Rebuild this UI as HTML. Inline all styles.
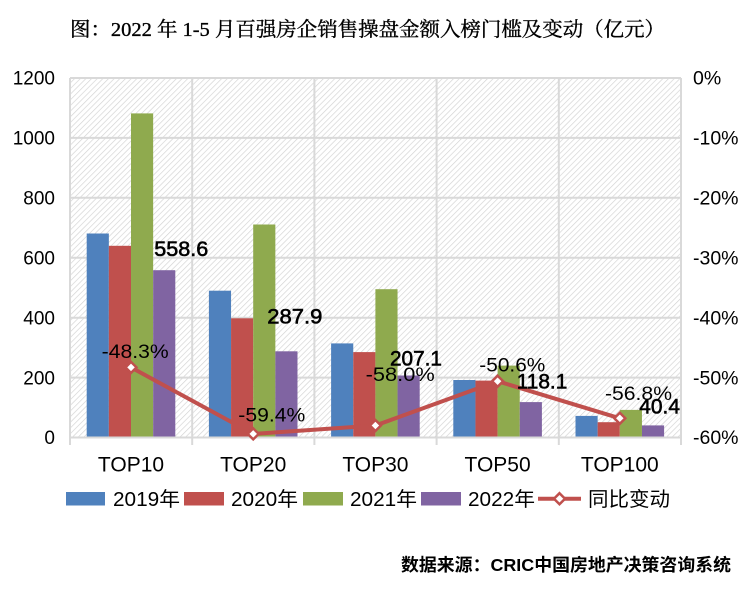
<!DOCTYPE html>
<html><head><meta charset="utf-8"><style>
html,body{margin:0;padding:0;background:#fff;}
svg{display:block;}
text{font-family:"Liberation Sans","Noto Sans CJK SC",sans-serif;fill:#000;}
</style></head><body>
<svg width="756" height="596" viewBox="0 0 756 596" xmlns="http://www.w3.org/2000/svg">
<defs>
<pattern id="hatch" width="4" height="4" patternUnits="userSpaceOnUse" patternTransform="rotate(45)">
<rect width="4" height="4" fill="#ffffff"/>
<line x1="0" y1="0" x2="0" y2="4" stroke="#d2d2d2" stroke-width="1.3"/>
</pattern>
</defs>
<rect width="756" height="596" fill="#fff"/>
<text x="70" y="36" font-size="20" textLength="595" lengthAdjust="spacingAndGlyphs" stroke="#000" stroke-width="0.35" style="font-family:'Liberation Serif','Noto Serif CJK SC',serif">图：2022 年 1-5 月百强房企销售操盘金额入榜门槛及变动（亿元）</text>

<rect x="70" y="78" width="611" height="359.5" fill="url(#hatch)"/>
<g stroke="#d9d9d9" stroke-width="2" fill="none">
<line x1="70" y1="78" x2="681" y2="78"/>
<line x1="70" y1="137.9" x2="681" y2="137.9"/>
<line x1="70" y1="197.8" x2="681" y2="197.8"/>
<line x1="70" y1="257.7" x2="681" y2="257.7"/>
<line x1="70" y1="317.7" x2="681" y2="317.7"/>
<line x1="70" y1="377.6" x2="681" y2="377.6"/>
<line x1="70" y1="78" x2="70" y2="445"/>
<line x1="192.2" y1="78" x2="192.2" y2="445"/>
<line x1="314.4" y1="78" x2="314.4" y2="445"/>
<line x1="436.6" y1="78" x2="436.6" y2="445"/>
<line x1="558.8" y1="78" x2="558.8" y2="445"/>
<line x1="681" y1="78" x2="681" y2="445"/>
</g>

<g>
<rect x="86.7" y="233.5" width="22.15" height="204" fill="#4F81BD"/>
<rect x="108.85" y="245.8" width="22.15" height="191.7" fill="#C0504D"/>
<rect x="131" y="113.4" width="22.15" height="324.1" fill="#8FAA4E"/>
<rect x="153.15" y="270.2" width="22.15" height="167.3" fill="#8064A2"/>

<rect x="208.9" y="290.7" width="22.15" height="146.8" fill="#4F81BD"/>
<rect x="231.05" y="318.3" width="22.15" height="119.2" fill="#C0504D"/>
<rect x="253.2" y="224.5" width="22.15" height="213" fill="#8FAA4E"/>
<rect x="275.35" y="351.3" width="22.15" height="86.2" fill="#8064A2"/>

<rect x="331.1" y="343.4" width="22.15" height="94.1" fill="#4F81BD"/>
<rect x="353.25" y="352.1" width="22.15" height="85.4" fill="#C0504D"/>
<rect x="375.4" y="289.2" width="22.15" height="148.3" fill="#8FAA4E"/>
<rect x="397.55" y="375.5" width="22.15" height="62" fill="#8064A2"/>

<rect x="453.3" y="380" width="22.15" height="57.5" fill="#4F81BD"/>
<rect x="475.45" y="380.6" width="22.15" height="56.9" fill="#C0504D"/>
<rect x="497.6" y="365.6" width="22.15" height="71.9" fill="#8FAA4E"/>
<rect x="519.75" y="402.1" width="22.15" height="35.4" fill="#8064A2"/>

<rect x="575.5" y="415.9" width="22.15" height="21.6" fill="#4F81BD"/>
<rect x="597.65" y="422.2" width="22.15" height="15.3" fill="#C0504D"/>
<rect x="619.8" y="409.9" width="22.15" height="27.6" fill="#8FAA4E"/>
<rect x="641.95" y="425.4" width="22.15" height="12.1" fill="#8064A2"/>
</g>
<line x1="70" y1="437.5" x2="681" y2="437.5" stroke="#d9d9d9" stroke-width="2"/>

<polyline points="131,367.4 253.2,433.9 375.4,425.5 497.6,381.2 619.8,418.3" fill="none" stroke="#C0504D" stroke-width="4" stroke-linejoin="round"/>
<g fill="#fff" stroke="#C0504D" stroke-width="2.5">
<path d="M131,361.9 L136.5,367.4 L131,372.9 L125.5,367.4 Z"/>
<path d="M253.2,428.4 L258.7,433.9 L253.2,439.4 L247.7,433.9 Z"/>
<path d="M375.4,420 L380.9,425.5 L375.4,431 L369.9,425.5 Z"/>
<path d="M497.6,375.7 L503.1,381.2 L497.6,386.7 L492.1,381.2 Z"/>
<path d="M619.8,412.8 L625.3,418.3 L619.8,423.8 L614.3,418.3 Z"/>
</g>

<g font-size="19" text-anchor="end">
<text x="55" y="84.7">1200</text>
<text x="55" y="144.6">1000</text>
<text x="55" y="204.5">800</text>
<text x="55" y="264.4">600</text>
<text x="55" y="324.4">400</text>
<text x="55" y="384.3">200</text>
<text x="55" y="444.2">0</text>
</g>
<g font-size="19.5">
<text x="693" y="84.7">0%</text>
<text x="693" y="144.6">-10%</text>
<text x="693" y="204.5">-20%</text>
<text x="693" y="264.4">-30%</text>
<text x="693" y="324.4">-40%</text>
<text x="693" y="384.3">-50%</text>
<text x="693" y="444.2">-60%</text>
</g>

<g font-size="21" text-anchor="middle">
<text x="131" y="471.7">TOP10</text>
<text x="253.2" y="471.7">TOP20</text>
<text x="375.4" y="471.7">TOP30</text>
<text x="497.6" y="471.7">TOP50</text>
<text x="619.8" y="471.7">TOP100</text>
</g>

<g font-size="19">
<text x="101.7" y="358" textLength="67" lengthAdjust="spacingAndGlyphs">-48.3%</text>
<text x="238.3" y="421.7" textLength="67" lengthAdjust="spacingAndGlyphs">-59.4%</text>
<text x="365.7" y="381" textLength="69" lengthAdjust="spacingAndGlyphs">-58.0%</text>
<text x="479.3" y="371.7" textLength="66" lengthAdjust="spacingAndGlyphs">-50.6%</text>
<text x="605" y="400" textLength="67" lengthAdjust="spacingAndGlyphs">-56.8%</text>
</g>
<g font-size="21.5" stroke="#000" stroke-width="0.6">
<text x="154.3" y="256" textLength="54" lengthAdjust="spacingAndGlyphs">558.6</text>
<text x="267.3" y="323.3" textLength="55" lengthAdjust="spacingAndGlyphs">287.9</text>
<text x="390" y="365.3" textLength="52" lengthAdjust="spacingAndGlyphs">207.1</text>
<text x="516.7" y="388.3" textLength="50.6" lengthAdjust="spacingAndGlyphs">118.1</text>
<text x="639.3" y="413.3" textLength="40.7" lengthAdjust="spacingAndGlyphs">40.4</text>
</g>

<rect x="66" y="492" width="39" height="13.5" fill="#4F81BD"/>
<rect x="184" y="492" width="40" height="13.5" fill="#C0504D"/>
<rect x="303" y="492" width="40" height="13.5" fill="#8FAA4E"/>
<rect x="421" y="492" width="40" height="13.5" fill="#8064A2"/>
<line x1="538" y1="498.7" x2="581" y2="498.7" stroke="#C0504D" stroke-width="4"/>
<path d="M559.5,493.2 L565,498.7 L559.5,504.2 L554,498.7 Z" fill="#fff" stroke="#C0504D" stroke-width="2.5"/>
<g font-size="20">
<text x="113" y="506" textLength="67" lengthAdjust="spacingAndGlyphs">2019年</text>
<text x="231" y="506" textLength="67" lengthAdjust="spacingAndGlyphs">2020年</text>
<text x="350" y="506" textLength="67" lengthAdjust="spacingAndGlyphs">2021年</text>
<text x="468" y="506" textLength="67" lengthAdjust="spacingAndGlyphs">2022年</text>
<text x="588" y="506" textLength="82" lengthAdjust="spacingAndGlyphs">同比变动</text>
</g>

<text x="401" y="571" font-size="17.5" font-weight="bold" textLength="330" lengthAdjust="spacingAndGlyphs">数据来源：CRIC中国房地产决策咨询系统</text>
</svg>
</body></html>
